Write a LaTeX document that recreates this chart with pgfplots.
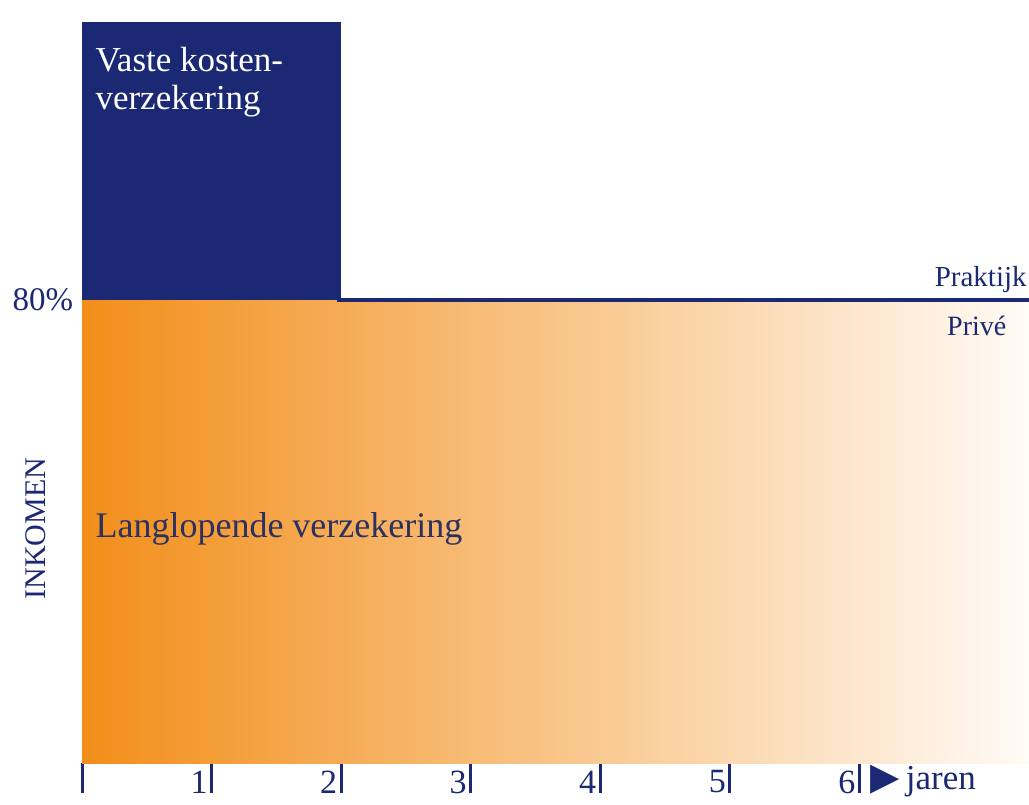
\documentclass[border=0pt]{standalone}
\usepackage{fontspec}
\setmainfont{Liberation Serif}
\newfontfamily\symfont{DejaVu Sans}
\usepackage{pgfplots}
\pgfplotsset{compat=1.18}

\definecolor{navy}{HTML}{1B2873}
\definecolor{txtnavy}{HTML}{2B3160}
\definecolor{orangeL}{HTML}{F28E1A}
\definecolor{orangeM}{HTML}{F9CB91}
\definecolor{orangeR}{HTML}{FFFBF6}

\begin{document}
\begin{tikzpicture}
\begin{axis}[
    scale only axis,
    width=473.5pt, height=370.5pt,
    xmin=0, xmax=7.31,
    ymin=0, ymax=128,
    axis line style={draw=none},
    axis x line*=bottom,
    axis y line=none,
    xtick={0,1,2,3,4,5,6},
    xticklabels={,1,2,3,4,5,6},
    tick align=outside,
    major tick length=15pt,
    x tick style={navy, line width=1.5pt},
    xticklabel style={anchor=east, yshift=5.5pt, xshift=-0.8pt, inner sep=1pt,
        font=\fontsize{17}{20}\selectfont, text=navy},
    clip=false,
]
% long-term insurance: income up to 80%
\addplot[draw=none, left color=orangeL, middle color=orangeM, right color=orangeR]
    coordinates {(0,0)(0,80)(7.31,80)(7.31,0)} -- cycle;
% fixed-cost insurance during first two years
\addplot[draw=none, fill=navy]
    coordinates {(0,80)(0,128)(2,128)(2,80)} -- cycle;
% boundary practice / private
\addplot[navy, line width=2pt] coordinates {(1.97,80)(7.31,80)};

\node[anchor=north west, align=left, text=white,
      font=\fontsize{17.5}{19}\selectfont]
    at (axis cs:0.05,124.8) {Vaste kosten-\\verzekering};
\node[anchor=west, text=txtnavy, font=\fontsize{18}{20}\selectfont]
    at (axis cs:0.05,40.5) {Langlopende verzekering};
\node[anchor=south east, text=navy, inner sep=1pt, font=\fontsize{14.5}{17}\selectfont]
    at (axis cs:7.31,80.8) {Praktijk};
\node[anchor=north west, text=navy, inner sep=1pt, font=\fontsize{14}{17}\selectfont]
    at (axis cs:6.66,77.6) {Privé};
\node[anchor=east, text=navy, inner sep=1pt, font=\fontsize{16.5}{18}\selectfont]
    at (axis cs:-0.05,80) {80\%};
\node[rotate=90, text=navy, font=\fontsize{15}{18}\selectfont]
    at (axis cs:-0.36,40.5) {INKOMEN};
\node[anchor=west, text=navy, inner sep=1pt, font=\fontsize{17.5}{18}\selectfont]
    at ([yshift=-9pt]axis cs:6.07,0) {{\symfont\fontsize{19}{20}\selectfont ▶}\,jaren};

\coordinate (SW) at (rel axis cs:0,0);
\coordinate (NE) at (rel axis cs:1,1);
\end{axis}
\pgfresetboundingbox
\path ([shift={(-41pt,-21pt)}]SW) rectangle ([shift={(0pt,11pt)}]NE);
\end{tikzpicture}
\end{document}
